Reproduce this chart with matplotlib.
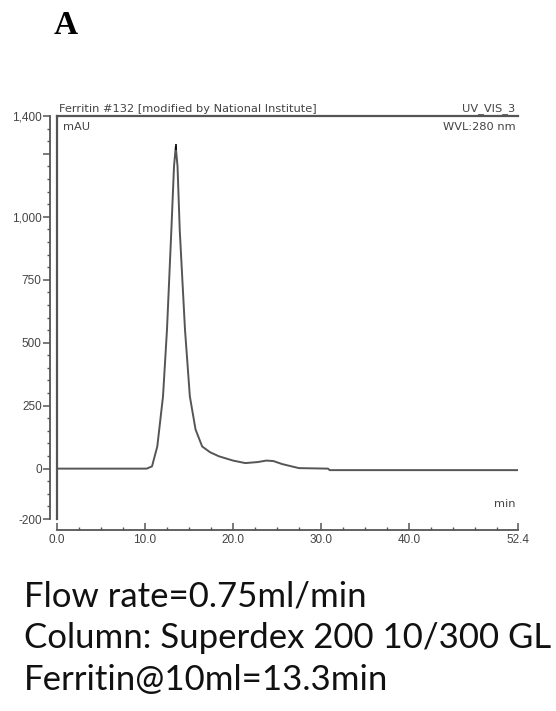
import matplotlib
matplotlib.use("Agg")
import matplotlib.pyplot as plt
from matplotlib.ticker import FixedLocator, FixedFormatter, MultipleLocator

# ---- Chromatogram trace (min, mAU) ---- #
time_min = [0.0, 10.2, 10.8, 11.4, 12.05, 12.5, 13.0, 13.3, 13.5, 13.7, 13.95,
            14.55, 15.1, 15.75, 16.5, 17.4, 18.4, 20.0, 21.4, 22.8, 23.8, 24.6,
            25.6, 27.5, 30.8, 31.0, 52.4]
mau = [0, 0, 9, 88, 287, 551, 948, 1200, 1278, 1200, 948,
       551, 287, 155, 88, 65, 49, 32, 22, 26, 32, 30,
       18, 2, 0, -6, -6]
peak_time = 13.5
peak_mau = 1278

y_ticks = [-200, 0, 250, 500, 750, 1000, 1250, 1400]
y_labels = ["-200", "0", "250", "500", "750", "1,000", "", "1,400"]
x_ticks = [0, 10, 20, 30, 40, 52.4]
x_labels = ["0.0", "10.0", "20.0", "30.0", "40.0", "52.4"]

notes = ["Flow rate=0.75ml/min",
         "Column: Superdex 200 10/300 GL",
         "Ferritin@10ml=13.3min"]

W, H = 556, 711
gray = "#555555"
txt = "#444444"
plt.rcParams["font.family"] = ["Liberation Sans", "DejaVu Sans"]

fig = plt.figure(figsize=(W / 100, H / 100), dpi=100)
# plot box in pixels: x 57..518, y 116 (1400) .. 519 (-200)
ax = fig.add_axes([57 / W, (H - 519) / H, (518 - 57) / W, (519 - 116) / H])
ax.set_xlim(0, 52.4)
ax.set_ylim(-200, 1400)

ax.plot(time_min, mau, color=gray, lw=1.4)
ax.plot([peak_time], [peak_mau], marker="|", color="black", ms=5, mew=1.2)

# frame: top + left edge, axis lines offset outside
ax.spines["right"].set_visible(False)
ax.spines["top"].set_color(gray)
ax.spines["top"].set_linewidth(1.6)
ax.spines["left"].set_position(("outward", 5))
ax.spines["left"].set_color(gray)
ax.spines["left"].set_linewidth(1.3)
ax.spines["bottom"].set_position(("outward", 8))
ax.spines["bottom"].set_color(gray)
ax.spines["bottom"].set_linewidth(1.3)
ax.plot([0, 0], [0, 1], transform=ax.transAxes, color=gray, lw=1.6, clip_on=False)

ax.yaxis.set_major_locator(FixedLocator(y_ticks))
ax.yaxis.set_major_formatter(FixedFormatter(y_labels))
ax.yaxis.set_minor_locator(MultipleLocator(50))
ax.xaxis.set_major_locator(FixedLocator(x_ticks))
ax.xaxis.set_major_formatter(FixedFormatter(x_labels))
ax.xaxis.set_minor_locator(MultipleLocator(2.5))
ax.tick_params(axis="y", which="major", direction="out", length=5, width=1.1,
               color=gray, labelsize=8.5, labelcolor=txt, pad=1)
ax.tick_params(axis="y", which="minor", direction="out", length=2.5, width=1,
               color=gray)
ax.tick_params(axis="x", which="major", direction="in", length=5, width=1.1,
               color=gray, labelsize=8.5, labelcolor=txt, pad=3)
ax.tick_params(axis="x", which="minor", direction="in", length=2.5, width=1,
               color=gray)

# instrument labels
lab = dict(transform=ax.transAxes, fontsize=8.2, color=txt, family="DejaVu Sans")
ax.text(0.005, 1.005, "Ferritin #132 [modified by National Institute]",
        ha="left", va="bottom", **lab)
ax.text(0.995, 1.005, "UV_VIS_3", ha="right", va="bottom", **lab)
ax.text(0.012, 0.985, "mAU", ha="left", va="top", **lab)
ax.text(0.995, 0.985, "WVL:280 nm", ha="right", va="top", **lab)
ax.text(0.995, 0.025, "min", ha="right", va="bottom", **lab)

fig.text(54 / W, 1 - 26 / H, "A", fontsize=24, fontweight="bold",
         family="Liberation Serif", ha="left", va="center")

for i, line in enumerate(notes):
    fig.text(24 / W, 1 - (596 + 42 * i) / H, line, fontsize=25,
             family="Lato", color="#111111", ha="left", va="center")

fig.savefig("out.png", dpi=100)
